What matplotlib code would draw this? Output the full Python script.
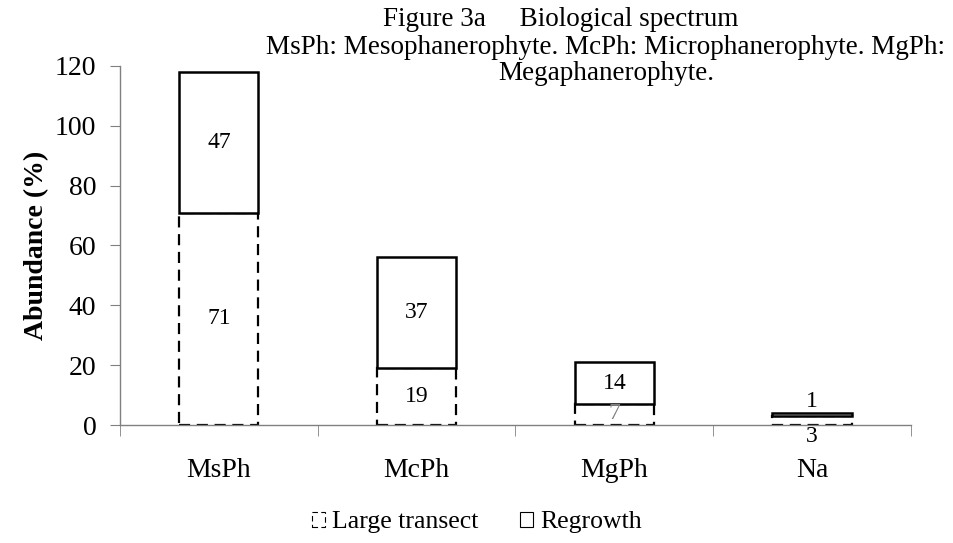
import matplotlib.pyplot as plt
import numpy as np

# --- DATA ---
categories = ["MsPh", "McPh", "MgPh", "Na"]
large_transect = [71, 19, 7, 3]
regrowth = [47, 37, 14, 1]
y_ticks = [0, 20, 40, 60, 80, 100, 120]

plt.rcParams['font.family'] = ['Liberation Serif', 'DejaVu Serif']

fig = plt.figure(figsize=(9.54, 5.43), dpi=100)
ax = fig.add_axes([0.1258, 0.2173, 0.829, 0.6612])

x = np.arange(len(categories))
width = 0.4

# bottom segments: dashed outline
b1 = ax.bar(x, large_transect, width, color='white', edgecolor='black',
            linestyle=(0, (5, 3)), linewidth=1.6, label='Large transect')
# top segments: solid outline
b2 = ax.bar(x, regrowth, width, bottom=large_transect, color='white',
            edgecolor='black', linewidth=1.8, label='Regrowth')

# value labels
for i, (lo, hi) in enumerate(zip(large_transect, regrowth)):
    if hi >= 5:
        ax.text(x[i], lo + hi / 2, str(hi), ha='center', va='center', fontsize=17)
    else:
        ax.text(x[i], lo + hi + 4, str(hi), ha='center', va='center', fontsize=17)
    if lo >= 10:
        ax.text(x[i], lo / 2, str(lo), ha='center', va='center', fontsize=17)
    elif lo >= 5:
        ax.text(x[i], lo / 2 + 0.5, str(lo), ha='center', va='center',
                fontsize=17, color='gray')
    else:
        ax.text(x[i], -4, str(lo), ha='center', va='center', fontsize=17)

ax.set_xlim(-0.5, len(categories) - 0.5)
ax.set_ylim(0, 120)
ax.set_yticks(y_ticks)
ax.set_xticks(x)
ax.set_xticklabels(categories)
ax.set_xticks(np.arange(len(categories) + 1) - 0.5, minor=True)
ax.tick_params(axis='x', which='major', length=0, pad=24, labelsize=20)
ax.tick_params(axis='x', which='minor', length=8, direction='out', color='gray')
ax.tick_params(axis='y', length=7, direction='out', color='gray', labelsize=20, pad=10)

for s in ['top', 'right']:
    ax.spines[s].set_visible(False)
for s in ['left', 'bottom']:
    ax.spines[s].set_color('gray')
    ax.spines[s].set_linewidth(1.0)

ax.set_ylabel("Abundance (%)", fontsize=20, fontweight='bold', labelpad=4)

# title lines
fig.text(0.588, 0.964, "Figure 3a     Biological spectrum", ha='center', va='center', fontsize=19.5)
fig.text(0.635, 0.913, "MsPh: Mesophanerophyte. McPh: Microphanerophyte. MgPh:",
         ha='center', va='center', fontsize=19.5)
fig.text(0.635, 0.864, "Megaphanerophyte.", ha='center', va='center', fontsize=19.5)

leg = fig.legend(handles=[b1, b2], loc='center', bbox_to_anchor=(0.5, 0.038),
                 ncol=2, frameon=False, fontsize=18.5, handlelength=0.5,
                 handleheight=0.5, handletextpad=0.3, columnspacing=1.6)
for h in leg.legend_handles:
    h.set_linewidth(0.8)

fig.savefig("out.png", dpi=100)
